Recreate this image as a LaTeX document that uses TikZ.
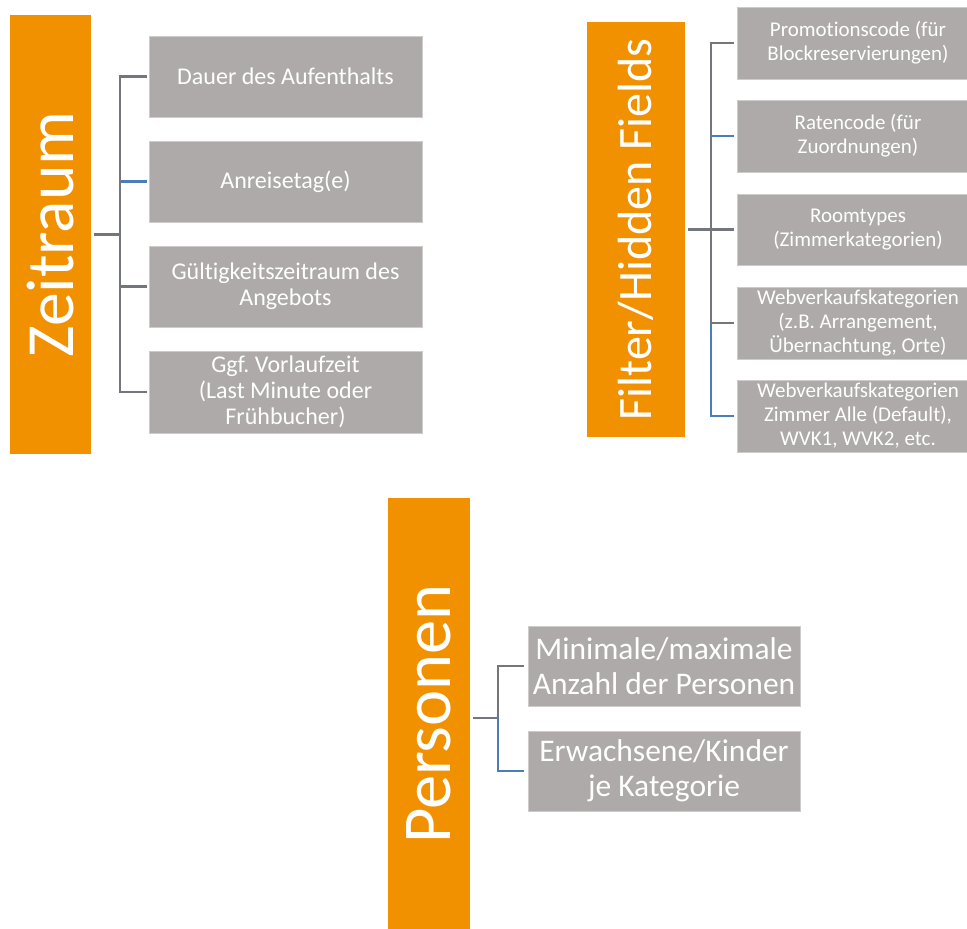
\documentclass[tikz,border=0pt]{standalone}
\usepackage{fontspec}
\setmainfont{Carlito}[Ligatures=NoCommon]
\frenchspacing
\usetikzlibrary{calc}
\definecolor{orng}{HTML}{F29100}
\definecolor{boxg}{HTML}{ADAAA9}
\definecolor{lineg}{HTML}{73767A}
\definecolor{lineb}{HTML}{4A7EBB}
\begin{document}
\begin{tikzpicture}[x=1pt,y=-1pt,
  bar/.style={fill=orng, draw=none, text=white, inner sep=0pt},
  item/.style={fill=boxg, draw=boxg!60!white, line width=0.6pt, text=white, align=center, inner sep=0pt},
  zitem/.style={item, minimum width=273pt, minimum height=81pt, font=\fontsize{24}{26}\selectfont},
  fitem/.style={item, minimum width=242pt, minimum height=72pt, font=\fontsize{21}{24}\selectfont},
  pitem/.style={item, minimum width=272pt, minimum height=80pt, font=\fontsize{31.5}{35}\selectfont},
  conng/.style={draw=lineg, line width=2.2pt},
  connb/.style={draw=lineb, line width=2.2pt},
]
\clip (0,0) rectangle (967,929);
\fill[white] (0,0) rectangle (967,929);

% ---------- Zeitraum ----------
\node[bar, minimum width=81pt, minimum height=439pt] (zbar) at (50.5,234.5)
  {\rotatebox{90}{\fontsize{67.5}{70}\selectfont Zeitraum}\hspace{4pt}};
\node[zitem] (z1) at (285.5,76.5) {Dauer des Aufenthalts};
\node[zitem] (z2) at (285.5,181.5) {Anreisetag(e)};
\node[zitem] (z3) at (285.5,286.5) {Gültigkeitszeitraum des\\Angebots};
\node[zitem, minimum height=82pt] (z4) at (285.5,392) {Ggf. Vorlaufzeit\\(Last Minute oder\\Frühbucher)};
\coordinate (zj) at (120,234.5);
\draw[connb, shorten >=2pt] (zj) |- (z2.west);
\draw[conng, shorten >=2pt] (zj) |- (z1.west);
\draw[conng, shorten >=2pt] (zj) |- (z3.west);
\draw[conng, shorten >=2pt] (zj) |- (z4.west);
\draw[conng, shorten <=3pt] (zbar.east) -- (zj);

% ---------- Filter/Hidden Fields ----------
\node[bar, minimum width=98pt, minimum height=415pt] (fbar) at (636,229.5)
  {\rotatebox{90}{\fontsize{48}{50}\selectfont Filter/Hidden Fields}};
\node[fitem] (f1) at (858,43) {Promotionscode (für\\Blockreservierungen)};
\node[fitem] (f2) at (858,136) {Ratencode (für\\Zuordnungen)};
\node[fitem, minimum height=71pt] (f3) at (858,229.5) {Roomtypes\\(Zimmerkategorien)};
\node[fitem] (f4) at (858,323) {Webverkaufskategorien\\(z.B. Arrangement,\\Übernachtung, Orte)};
\node[fitem] (f5) at (858,416) {Webverkaufskategorien\\Zimmer Alle (Default),\\WVK1, WVK2, etc.};
\coordinate (fj) at (711,229.5);
\draw[connb, shorten >=3pt] (fj) |- (f2.west);
\draw[connb, shorten >=3pt] (fj) |- (f5.west);
\draw[conng, shorten >=3pt] (fj) |- (f1.west);
\draw[conng, shorten >=3pt] (fj) -- (f3.west);
\draw[conng, shorten >=3pt] (fj) |- (f4.west);
\draw[conng, shorten <=3pt] (fbar.east) -- (fj);

% ---------- Personen ----------
\node[bar, minimum width=82pt, minimum height=432pt] (pbar) at (429,714)
  {\raisebox{-12pt}{\rotatebox{90}{\fontsize{68.5}{70}\selectfont Personen}}};
\node[pitem] (p1) at (664,666) {Minimale/maximale\\Anzahl der Personen};
\node[pitem] (p2) at (664,771) {Erwachsene/Kinder\\je Kategorie};
\coordinate (pj) at (498,718);
\draw[connb, shorten >=4pt] (pj) |- (p2.west);
\draw[conng, shorten >=4pt] (pj) |- (p1.west);
\draw[conng, shorten <=3pt] (pbar.east |- pj) -- (pj);
\end{tikzpicture}
\end{document}
